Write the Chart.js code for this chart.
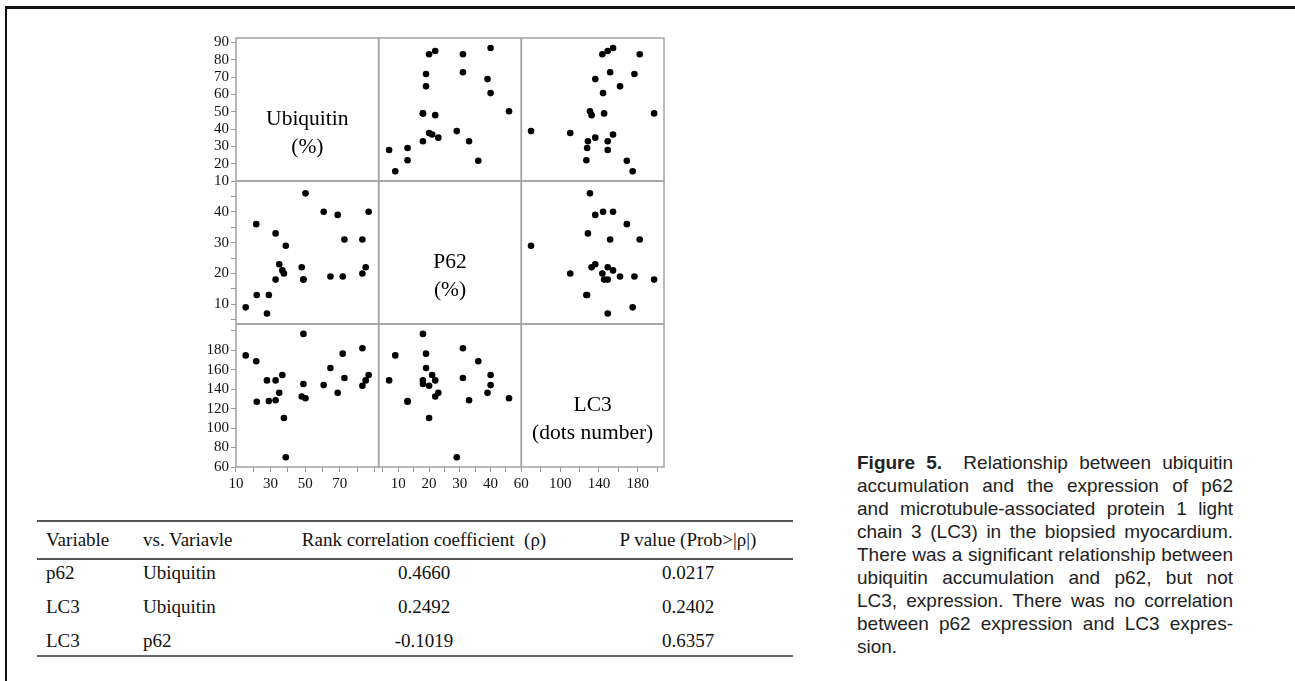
<!DOCTYPE html>
<html>
<head>
<meta charset="utf-8">
<script src="https://cdn.jsdelivr.net/npm/chart.js@4.4.1/dist/chart.umd.min.js"></script>
<style>
body { margin: 0; width: 1295px; height: 681px; position: relative; overflow: hidden; background: #fff; }
#frame { position: absolute; left: 5px; top: 6px; right: -10px; bottom: -10px; border-top: 3px solid #111; border-left: 2px solid #111; }
#matrix { position: absolute; left: 180px; top: 20px; }
#stats { position: absolute; left: 37px; top: 520px; width: 756px; border-collapse: collapse; table-layout: fixed;
  font-family: "Liberation Serif", "Times New Roman", serif; font-size: 19px; color: #111; }
#stats th, #stats td { font-weight: normal; line-height: 22px; padding: 0; white-space: nowrap; }
#stats thead tr { border-top: 2px solid #555; border-bottom: 2px solid #555; }
#stats tbody tr:last-child { border-bottom: 2px solid #666; }
#stats th { padding-top: 7px; padding-bottom: 7px; vertical-align: middle; }
#stats td { height: 32px; padding-top: 2px; vertical-align: top; }
#stats tbody tr:last-child td { height: 25px; }
#stats .c1, #stats .c2 { text-align: left; padding-left: 9px; }
#stats .c3 { text-align: center; padding-right: 10px; }
#stats .c4 { text-align: center; padding-left: 25px; }
#caption { position: absolute; left: 857px; top: 451px; width: 376px; font-family: "Liberation Sans", Arial, sans-serif;
  font-size: 19px; line-height: 23px; color: #222; }
#caption div { text-align: justify; text-align-last: justify; white-space: nowrap; }
#caption div.last { text-align-last: left; }
#caption b { font-family: "Liberation Sans Narrow", "Liberation Sans", Arial, sans-serif; font-weight: bold; margin-right: 10px; }
</style>
</head>
<body>
<div id="frame"></div>
<canvas id="matrix" width="500" height="490"></canvas>

<table id="stats">
  <colgroup><col style="width:97px"><col style="width:166px"><col style="width:258px"><col style="width:235px"></colgroup>
  <thead><tr>
    <th class="c1">Variable</th><th class="c2">vs. Variavle</th>
    <th class="c3">Rank correlation coefficient&nbsp; (&rho;)</th><th class="c4">P value (Prob&gt;|&rho;|)</th>
  </tr></thead>
  <tbody id="statsBody"></tbody>
</table>

<div id="caption">
  <div><b>Figure 5.</b> Relationship between ubiquitin</div>
  <div>accumulation and the expression of p62</div>
  <div>and microtubule-associated protein 1 light</div>
  <div>chain 3 (LC3) in the biopsied myocardium.</div>
  <div>There was a significant relationship between</div>
  <div>ubiquitin accumulation and p62, but not</div>
  <div>LC3, expression. There was no correlation</div>
  <div>between p62 expression and LC3 expres-</div>
  <div class="last">sion.</div>
</div>

<script>
// one value per patient
const ubiquitin = [15.6, 21.7, 22, 27.9, 29, 32.9, 32.9, 35, 36.8, 37.7, 38.8, 48, 49, 49, 50.2, 60.7, 64.6, 68.8, 71.7, 72.7, 83.1, 83.1, 85, 86.7];
const p62 = [9, 36, 13, 7, 13, 33, 18, 23, 21, 20, 29, 22, 18, 18, 46, 40, 19, 39, 19, 31, 31, 20, 22, 40];
const lc3 = [174.7, 168.7, 127, 149, 127.8, 128.6, 149, 136.2, 154.5, 110.4, 70, 132.4, 196.8, 145.3, 130.7, 144.2, 161.7, 136.2, 176.5, 151.5, 182, 143.5, 149, 154.5];

const varLabels = [['Ubiquitin', '(%)'], ['P62', '(%)'], ['LC3', '(dots number)']];

// correlation table
const statVar = ['p62', 'LC3', 'LC3'];
const statVs = ['Ubiquitin', 'Ubiquitin', 'p62'];
const statRho = ['0.4660', '0.2492', '-0.1019'];
const statP = ['0.0217', '0.2402', '0.6357'];

const body = document.getElementById('statsBody');
statVar.forEach((v, i) => {
  const tr = document.createElement('tr');
  [[v, 'c1'], [statVs[i], 'c2'], [statRho[i], 'c3'], [statP[i], 'c4']].forEach(([t, c]) => {
    const td = document.createElement('td');
    td.className = c;
    td.textContent = t;
    tr.appendChild(td);
  });
  body.appendChild(tr);
});

const vars = [ubiquitin, p62, lc3];
const colAxes = ['x1', 'x2', 'x3'];
const rowAxes = ['y1', 'y2', 'y3'];

const datasets = [];
for (let r = 0; r < 3; r++) {
  for (let c = 0; c < 3; c++) {
    if (r === c) continue;
    datasets.push({
      data: vars[c].map((v, i) => ({ x: v, y: vars[r][i] })),
      xAxisID: colAxes[c],
      yAxisID: rowAxes[r],
      backgroundColor: '#000',
      borderWidth: 0,
      pointRadius: 3.3,
      pointHoverRadius: 3.3
    });
  }
}

const tickFont = { family: '"Liberation Serif", "Times New Roman", serif', size: 15 };
const gridOpts = { drawOnChartArea: false, drawTicks: true, tickLength: 5, color: '#999', lineWidth: 1 };

function axis(dir, stackName, weight, min, max, step, labelled) {
  return {
    type: 'linear',
    axis: dir,
    position: dir === 'x' ? 'bottom' : 'left',
    stack: stackName,
    stackWeight: 1,
    weight: weight,
    min: min,
    max: max,
    grid: gridOpts,
    border: { display: false },
    ticks: {
      stepSize: step,
      includeBounds: false,
      autoSkip: false,
      maxRotation: 0,
      padding: dir === 'x' ? 3 : 2,
      color: '#111',
      font: tickFont,
      callback: v => labelled.includes(v) ? String(v) : ''
    },
    afterFit: s => { if (dir === 'x') s.height = 28; else s.width = 44; }
  };
}

const panelFrame = {
  id: 'panelFrame',
  beforeDatasetsDraw(chart) {
    const ctx = chart.ctx;
    ctx.save();
    ctx.strokeStyle = '#a3a3a3';
    ctx.lineWidth = 1.5;
    colAxes.forEach(xid => rowAxes.forEach(yid => {
      const xs = chart.scales[xid], ys = chart.scales[yid];
      ctx.strokeRect(xs.left, ys.top, xs.right - xs.left, ys.bottom - ys.top);
    }));
    ctx.fillStyle = '#000';
    ctx.font = '21.5px "Liberation Serif", "Times New Roman", serif';
    ctx.textAlign = 'center';
    ctx.textBaseline = 'middle';
    varLabels.forEach((lines, i) => {
      const xs = chart.scales[colAxes[i]], ys = chart.scales[rowAxes[i]];
      const cx = (xs.left + xs.right) / 2, cy = (ys.top + ys.bottom) / 2;
      lines.forEach((t, j) => ctx.fillText(t, cx, cy + 10 + j * 28));
    });
    ctx.restore();
  }
};

new Chart(document.getElementById('matrix'), {
  type: 'scatter',
  data: { datasets: datasets },
  options: {
    responsive: false,
    animation: false,
    layout: { padding: { left: 12, top: 18, right: 16, bottom: 15 } },
    plugins: { legend: { display: false }, tooltip: { enabled: false } },
    scales: {
      x1: axis('x', 'cols', 1, 10, 92.5, 10, [10, 30, 50, 70]),
      x2: axis('x', 'cols', 2, 3.6, 50, 5, [10, 20, 30, 40]),
      x3: axis('x', 'cols', 3, 60, 207, 20, [60, 100, 140, 180]),
      y1: axis('y', 'rows', 3, 10, 92.5, 10, [10, 20, 30, 40, 50, 60, 70, 80, 90]),
      y2: axis('y', 'rows', 2, 3.6, 50, 5, [10, 20, 30, 40]),
      y3: axis('y', 'rows', 1, 60, 207, 20, [60, 80, 100, 120, 140, 160, 180])
    }
  },
  plugins: [panelFrame]
});
</script>
</body>
</html>
